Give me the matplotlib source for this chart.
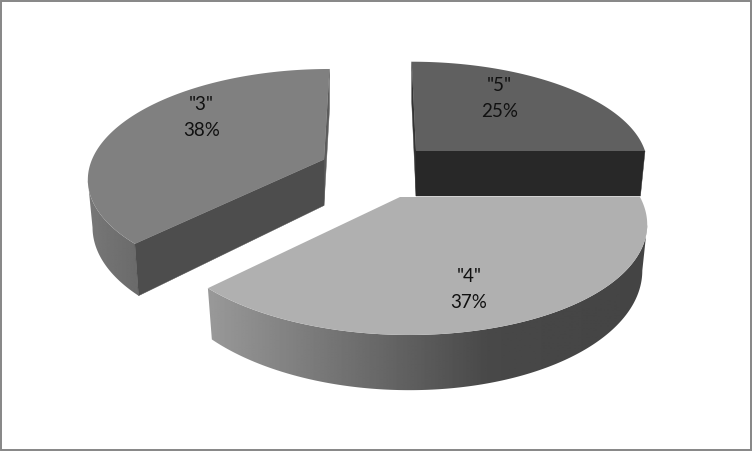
import numpy as np
import matplotlib
matplotlib.use('Agg')
import matplotlib.pyplot as plt
from matplotlib.patches import Polygon, Rectangle

# data (unrounded shares, the labels show them rounded)
categories = ['"5"', '"4"', '"3"']
shares = [25.0, 37.4, 37.6]

# greys of each slice
top_colors = {'"5"': '#606060', '"4"': '#b0b0b0', '"3"': '#808080'}
front_colors = {'"5"': '#282828', '"3"': '#4d4d4d'}
back_colors = {'"5"': '#333333', '"3"': '#5c5c5c'}

# grey along x for the outer rim
rim_x = {'"4"': [205, 350, 490, 650], '"3"': [85, 140]}
rim_grey = {'"4"': [0x9a, 0x70, 0x48, 0x44], '"3"': [0x78, 0x6a]}

# perspective of each slice, pixels of the picture
geom = {
    '"5"': dict(cx=416, cy=151, f=229, g=100, k=0.12, u=40, d=45),
    '"4"': dict(cx=400, cy=197, f=240, g=109, k=0.21, u=35, d=43.6),
    '"3"': dict(cx=324, cy=159.5, f=232, g=105, k=0.16, u=-40, d=46),
}
# which end of the slice faces the viewer
front_end = {'"5"': 1, '"3"': 0}
baselines = {'"5"': (499.5, 91), '"4"': (469, 282), '"3"': (201.5, 110)}
shrink = 0.98


def project(p, theta, lower=False):
    s, c = np.sin(theta), np.cos(theta)
    w = 1 + p['k'] * c
    f = p['f'] * (shrink if lower else 1)
    x = p['cx'] + p['u'] * (1 / w - 1) + f * s / w
    y = p['cy'] - p['g'] * c / w
    if lower:
        y = y + p['d'] / w
    return x, y


def cut_face(ax, p, theta, color, z):
    pts = [project(p, theta), project(p, theta, True), (p['cx'], p['cy'] + p['d']), (p['cx'], p['cy'])]
    ax.add_patch(Polygon(pts, closed=True, facecolor=color, edgecolor=color, linewidth=0.3, zorder=z))


fig = plt.figure(figsize=(7.53, 4.51), dpi=100)
ax = fig.add_axes([0, 0, 1, 1])

ax.add_patch(Rectangle((1, 0.5), 750.5, 449.5, fill=False, edgecolor='#868686', linewidth=1.4, zorder=1))

fracs = np.array(shares) / sum(shares)
ends = np.cumsum(fracs) * 2 * np.pi
starts = ends - fracs * 2 * np.pi

draw_order = ['"5"', '"3"', '"4"']
for n, name in enumerate(draw_order):
    i = categories.index(name)
    p = geom[name]
    a0, a1 = starts[i], ends[i]
    z = 2 + n * 5

    if name in front_end:
        cut_face(ax, p, (a0, a1)[1 - front_end[name]], back_colors[name], z)

    # outer rim, gradient image clipped to the rim outline
    if name in rim_x:
        th = np.linspace(a0, a1, 300)
        ux, uy = project(p, th)
        lx, ly = project(p, th, True)
        # only the part from the front edge to the widest point can be seen
        if name == '"4"':
            keep = np.arange(np.argmax(ux), len(th))
        else:
            keep = np.arange(0, np.argmin(ux) + 1)
        ux, uy, lx, ly = ux[keep], uy[keep], lx[keep], ly[keep]
        outline = np.column_stack([np.r_[ux, lx[::-1]], np.r_[uy, ly[::-1]]])
        xgrid = np.arange(outline[:, 0].min() - 1, outline[:, 0].max() + 2)
        grad = np.interp(xgrid, rim_x[name], rim_grey[name])[None, :]
        im = ax.imshow(grad, cmap='gray', vmin=0, vmax=255, aspect='auto', zorder=z + 1, interpolation='bilinear',
                       extent=(xgrid[0], xgrid[-1], outline[:, 1].max() + 1, outline[:, 1].min() - 1))
        clip = Polygon(outline, closed=True, transform=ax.transData, facecolor='none', edgecolor='none')
        ax.add_patch(clip)
        im.set_clip_path(clip)

    if name in front_end:
        cut_face(ax, p, (a0, a1)[front_end[name]], front_colors[name], z + 2)

    # top surface
    xs, ys = project(p, np.linspace(a0, a1, 200))
    pts = [(p['cx'], p['cy'])] + list(zip(xs, ys))
    ax.add_patch(Polygon(pts, closed=True, facecolor=top_colors[name], edgecolor='none', zorder=z + 3))

    tx, ty = baselines[name]
    ax.text(tx, ty, name, ha='center', va='baseline', family='Lato', fontsize=13.5, color='#111111', zorder=30)
    ax.text(tx, ty + 26, f'{shares[i]:.0f}%', ha='center', va='baseline', family='Lato', fontsize=13.5,
            color='#111111', zorder=30)

ax.set_xlim(0, 753)
ax.set_ylim(451, 0)
ax.axis('off')

fig.savefig('out.png', dpi=100)
